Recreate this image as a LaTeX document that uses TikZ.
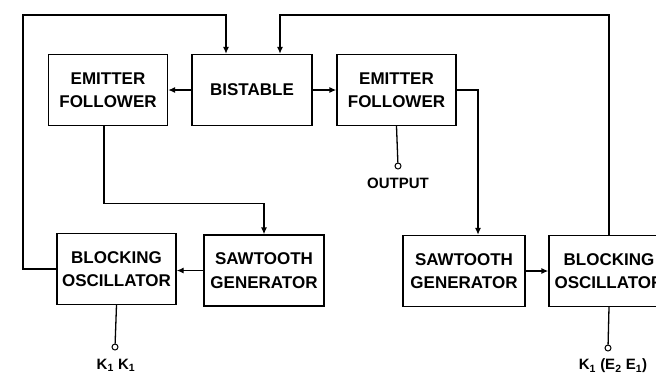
\documentclass[tikz,border=0pt]{standalone}
\usepackage{fontspec}
\setmainfont{Liberation Sans}
\usetikzlibrary{arrows.meta}
\tikzset{
  blk/.style={draw,line width=1.3pt,minimum width=119pt,minimum height=71pt,
    inner sep=0pt,align=center,font=\bfseries\fontsize{17}{23.5}\selectfont},
  term/.style={draw,circle,line width=1pt,inner sep=0pt,minimum size=6pt},
  lbl/.style={font=\bfseries\fontsize{15}{17}\selectfont},
  wire/.style={line width=1.3pt},
}
\begin{document}
\begin{tikzpicture}[x=1pt,y=-1pt,>={Latex[length=7pt,width=6pt]}]
  \useasboundingbox (0,0) rectangle (656,376);
  \node[blk] (efl) at (108,90) {EMITTER\\FOLLOWER};
  \node[blk,minimum width=120pt] (bist) at (252,90) {BISTABLE};
  \node[blk] (efr) at (396.5,90) {EMITTER\\FOLLOWER};
  \node[blk] (bol) at (116.5,269) {BLOCKING\\OSCILLATOR};
  \node[blk,minimum width=120pt] (sgl) at (264,270.5) {SAWTOOTH\\GENERATOR};
  \node[blk,minimum width=122pt] (sgr) at (464,271) {SAWTOOTH\\GENERATOR};
  \node[blk,minimum width=120pt] (bor) at (609,271) {BLOCKING\\OSCILLATOR};
  % terminals
  \node[term] (out) at (398,166) {};
  \node[lbl] (outl) at (398,183) {OUTPUT};
  \node[term] (kl) at (115,347) {};
  \node[lbl] (kll) at (116,365) {K\textsubscript{1} K\textsubscript{1}};
  \node[term] (kr) at (608,348) {};
  \node[lbl] (krl) at (613,366) {K\textsubscript{1} (E\textsubscript{2} E\textsubscript{1})};
  % entry points
  \coordinate (inl) at ([xshift=-26pt]bist.north);
  \coordinate (inr) at ([xshift=28pt]bist.north);
  \coordinate (ins) at ([xshift=14pt]sgr.north);
  \coordinate (tl) at (23,15);
  \coordinate (tr) at (inr |- tl);
  % connections
  \draw[wire,->] (bist.west) -- (efl.east);
  \draw[wire,->] (bist.east) -- (efr.east -| efr.west);
  \draw[wire,->] ([xshift=-4pt]efl.south) -- ++(0,77) -| (sgl.north);
  \draw[wire,->] (sgl.west) -- (sgl.west -| bol.east);
  \draw[wire,->] (bol.west) -| (tl) -| (inl);
  \draw[wire,->] (efr.east) -| (ins);
  \draw[wire,->] (sgr.east) -- (sgr.east -| bor.west);
  \draw[wire,->] (bor.north) |- (tr) -- (inr);
  \draw[wire] (efr.south) -- (out);
  \draw[wire] (bol.south) -- (kl);
  \draw[wire] (bor.south) -- (kr);
\end{tikzpicture}
\end{document}
